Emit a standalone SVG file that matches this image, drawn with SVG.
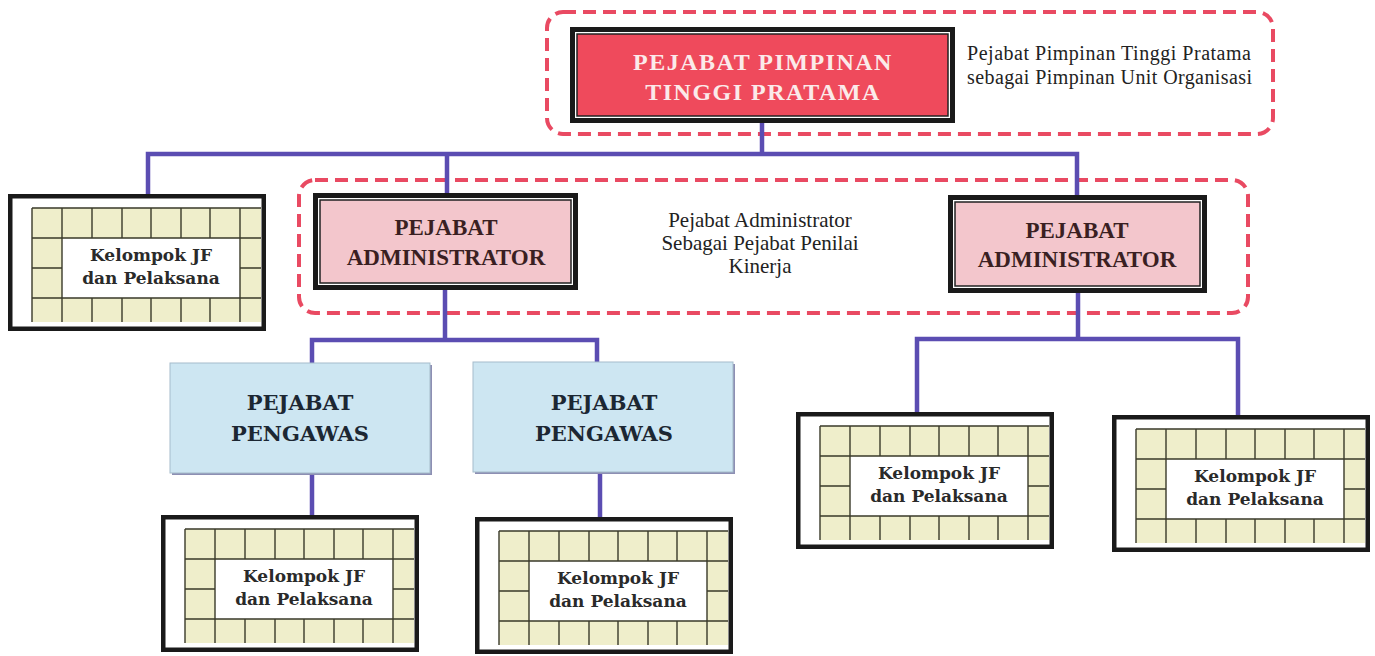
<svg xmlns="http://www.w3.org/2000/svg" xmlns:xlink="http://www.w3.org/1999/xlink" width="1375" height="656" viewBox="0 0 1375 656">
<style>
.dash{fill:none;stroke:#e94a62;stroke-width:4;stroke-dasharray:13 7}
.conn{fill:none;stroke:#5b4db2;stroke-width:4.5;stroke-linejoin:miter}
.note{font-family:"Liberation Serif",serif;font-size:21px;fill:#222;text-anchor:middle}
.note2{font-family:"Liberation Serif",serif;font-size:20px;fill:#222;text-anchor:start}
.top{font-family:"Liberation Serif",serif;font-weight:bold;font-size:24px;fill:#fbeaea;text-anchor:middle;letter-spacing:1.5px}
.adm{font-family:"Liberation Serif",serif;font-weight:bold;font-size:23px;fill:#3a1f22;text-anchor:middle}
.pgw{font-family:"DejaVu Serif",serif;font-weight:bold;font-size:21px;fill:#1c2733;text-anchor:middle}
.jf{font-family:"DejaVu Serif",serif;font-weight:bold;font-size:17px;fill:#2a2a2a;text-anchor:middle}
.gl{stroke:#3a3a2a;stroke-width:1.4;fill:none}
</style>
<defs>
<g id="jfbox">
<rect x="2.25" y="2.25" width="253.5" height="132.5" fill="#fff" stroke="#1a1a1a" stroke-width="4.5"/>
<rect x="24" y="14" width="229" height="114" fill="#efeecb"/>
<rect x="54" y="44" width="178" height="60" fill="#fff"/>
<path class="gl" d="M24 14H253M24 44H253M24 104H253M24 74H54M232 74H253M24 14V128M54 14V128M232 14V128M84 14V44M114 14V44M143 14V44M173 14V44M202 14V44M84 104V128M114 104V128M143 104V128M173 104V128M202 104V128"/>
<text class="jf" x="143" y="67">Kelompok JF</text>
<text class="jf" x="143" y="90">dan Pelaksana</text>
</g>
</defs>
<rect width="1375" height="656" fill="#fff"/>

<g id="group-top">
<rect class="dash" x="547" y="12" width="726" height="122" rx="16"/>
<text class="note2" x="967" y="60" textLength="284">Pejabat Pimpinan Tinggi Pratama</text>
<text class="note2" x="967" y="84" textLength="285">sebagai Pimpinan Unit Organisasi</text>
</g>

<g id="group-admin">
<rect class="dash" x="299" y="180" width="949" height="133" rx="16"/>
<text class="note" x="760" y="227">Pejabat Administrator</text>
<text class="note" x="760" y="250">Sebagai Pejabat Penilai</text>
<text class="note" x="760" y="273">Kinerja</text>
</g>

<g id="connectors">
<path class="conn" d="M762 123V154M148 194V154H1077V195M447 154V193"/>
<path class="conn" d="M445 290V340M312 363V340H597V362"/>
<path class="conn" d="M312 473V515M600 472V517"/>
<path class="conn" d="M1078 293V339M917 412V339H1238V415"/>
</g>

<g id="node-pimpinan">
<rect x="570" y="27" width="385" height="96" fill="#1a1a1a"/>
<rect x="575" y="32" width="375" height="86" fill="#fff"/>
<rect x="577" y="34" width="371" height="82" fill="#ef4a5c" stroke="#222" stroke-width="1.5"/>
<text class="top" x="763" y="70">PEJABAT PIMPINAN</text>
<text class="top" x="763" y="100">TINGGI PRATAMA</text>
</g>

<g id="node-admin-left">
<rect x="313" y="193" width="265" height="97" fill="#1a1a1a"/>
<rect x="318" y="198" width="255" height="87" fill="#fff"/>
<rect x="320" y="200" width="251" height="83" fill="#f3c6cc" stroke="#222" stroke-width="1.5"/>
<text class="adm" x="446" y="235">PEJABAT</text>
<text class="adm" x="446" y="265">ADMINISTRATOR</text>
</g>

<g id="node-admin-right">
<rect x="948" y="195" width="259" height="98" fill="#1a1a1a"/>
<rect x="953" y="200" width="249" height="88" fill="#fff"/>
<rect x="955" y="202" width="245" height="84" fill="#f3c6cc" stroke="#222" stroke-width="1.5"/>
<text class="adm" x="1077" y="238">PEJABAT</text>
<text class="adm" x="1077" y="267">ADMINISTRATOR</text>
</g>

<g id="node-pengawas-left">
<rect x="172" y="365" width="260" height="110" fill="#8d8fb3"/>
<rect x="170" y="363" width="260" height="110" fill="#cde6f2" stroke="#a5bccb" stroke-width="1"/>
<text class="pgw" x="300" y="410">PEJABAT</text>
<text class="pgw" x="300" y="441">PENGAWAS</text>
</g>

<g id="node-pengawas-right">
<rect x="475" y="364" width="260" height="110" fill="#8d8fb3"/>
<rect x="473" y="362" width="260" height="110" fill="#cde6f2" stroke="#a5bccb" stroke-width="1"/>
<text class="pgw" x="604" y="410">PEJABAT</text>
<text class="pgw" x="604" y="441">PENGAWAS</text>
</g>

<g id="node-jf-1"><use xlink:href="#jfbox" href="#jfbox" x="8" y="194"/></g>
<g id="node-jf-2"><use xlink:href="#jfbox" href="#jfbox" x="161" y="515"/></g>
<g id="node-jf-3"><use xlink:href="#jfbox" href="#jfbox" x="475" y="517"/></g>
<g id="node-jf-4"><use xlink:href="#jfbox" href="#jfbox" x="796" y="412"/></g>
<g id="node-jf-5"><use xlink:href="#jfbox" href="#jfbox" x="1112" y="415"/></g>
</svg>
